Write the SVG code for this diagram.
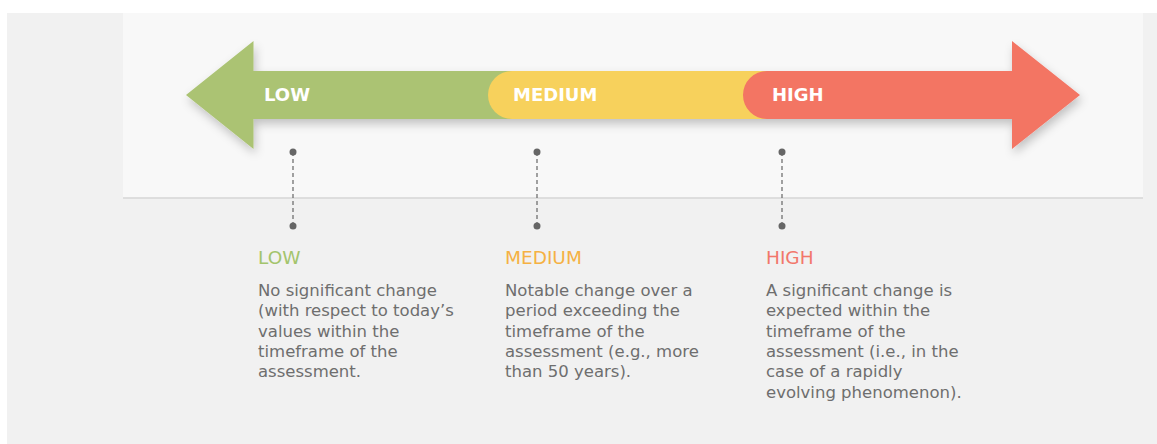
<svg xmlns="http://www.w3.org/2000/svg" width="1157" height="444" viewBox="0 0 1157 444">
<style>
.lbl{font-family:"DejaVu Sans","Liberation Sans",sans-serif;font-weight:bold;font-size:18px;fill:#ffffff}
.hd{font-family:"DejaVu Sans","Liberation Sans",sans-serif;font-size:18.5px}
.body{font-family:"DejaVu Sans","Liberation Sans",sans-serif;font-size:16.5px;fill:#6e6e6e}
.dash{stroke:#666;stroke-width:1.2;stroke-dasharray:4 3;fill:none}
.dot{fill:#666}
</style>
<defs>
<filter id="sh" x="-10%" y="-30%" width="120%" height="170%">
<feDropShadow dx="2" dy="5" stdDeviation="5" flood-color="#000" flood-opacity="0.22"/>
</filter>
</defs>
<rect x="0" y="0" width="1157" height="444" fill="#ffffff"/>
<rect x="7" y="13" width="1150" height="431" fill="#f1f1f1"/>
<rect x="123" y="13" width="1020" height="185" fill="#f8f8f8"/>
<line x1="123" y1="198" x2="1143" y2="198" stroke="#d6d6d6" stroke-width="1.5"/>

<g id="arrow" filter="url(#sh)">
<g id="node-low-bar">
<polygon points="186,95 253.5,41 253.5,71 520,71 520,119 253.5,119 253.5,149" fill="#abc373"/>
</g>
<g id="node-medium-bar">
<path d="M512,71 H775 V119 H512 A24,24 0 0 1 512,71 Z" fill="#f7d15c"/>
</g>
<g id="node-high-bar">
<path d="M767,71 H1012 V41 L1080,95 L1012,149 V119 H767 A24,24 0 0 1 767,71 Z" fill="#f37464"/>
</g>
</g>
<text class="lbl" x="264" y="101">LOW</text>
<text class="lbl" x="513" y="101">MEDIUM</text>
<text class="lbl" x="772" y="101">HIGH</text>

<g id="connectors">
<line class="dash" x1="293" y1="152" x2="293" y2="226"/>
<line class="dash" x1="537" y1="152" x2="537" y2="226"/>
<line class="dash" x1="782" y1="152" x2="782" y2="226"/>
<circle class="dot" cx="293" cy="152" r="3.5"/>
<circle class="dot" cx="293" cy="226" r="3.5"/>
<circle class="dot" cx="537" cy="152" r="3.5"/>
<circle class="dot" cx="537" cy="226" r="3.5"/>
<circle class="dot" cx="782" cy="152" r="3.5"/>
<circle class="dot" cx="782" cy="226" r="3.5"/>
</g>

<g id="node-low">
<text class="hd" x="258" y="264" fill="#a3c46c">LOW</text>
<text class="body" x="258" y="296">No significant change</text>
<text class="body" x="258" y="316.3">(with respect to today’s</text>
<text class="body" x="258" y="336.6">values within the</text>
<text class="body" x="258" y="356.9">timeframe of the</text>
<text class="body" x="258" y="377.2">assessment.</text>
</g>
<g id="node-medium">
<text class="hd" x="505" y="264" fill="#f5b143">MEDIUM</text>
<text class="body" x="505" y="296">Notable change over a</text>
<text class="body" x="505" y="316.3">period exceeding the</text>
<text class="body" x="505" y="336.6">timeframe of the</text>
<text class="body" x="505" y="356.9">assessment (e.g., more</text>
<text class="body" x="505" y="377.2">than 50 years).</text>
</g>
<g id="node-high">
<text class="hd" x="766" y="264" fill="#f2776b">HIGH</text>
<text class="body" x="766" y="296">A significant change is</text>
<text class="body" x="766" y="316.3">expected within the</text>
<text class="body" x="766" y="336.6">timeframe of the</text>
<text class="body" x="766" y="356.9">assessment (i.e., in the</text>
<text class="body" x="766" y="377.2">case of a rapidly</text>
<text class="body" x="766" y="397.5">evolving phenomenon).</text>
</g>
</svg>
